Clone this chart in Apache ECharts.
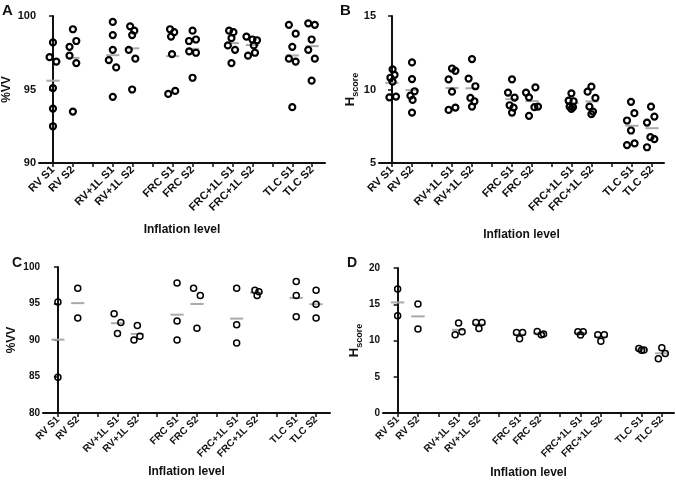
<!DOCTYPE html>
<html>
<head>
<meta charset="utf-8">
<script src="https://cdn.jsdelivr.net/npm/echarts@6/dist/echarts.min.js"></script>
<style>
  html, body { margin: 0; padding: 0; background: #fff; }
  #chart { width: 676px; height: 485px; }
</style>
</head>
<body>
<div id="chart"></div>
<script>
// categories on the x axis (pairs with a blank slot between them)
const categories = ['RV S1', 'RV S2', 'RV+1L S1', 'RV+1L S2', 'FRC S1', 'FRC S2', 'FRC+1L S1', 'FRC+1L S2', 'TLC S1', 'TLC S2']
const catPositions = [0, 1, 3, 4, 6, 7, 9, 10, 12, 13]
const tickPositions = [0, 1, 2, 3, 4, 5, 6, 7, 8, 9, 10, 11, 12, 13]

// panel A: %VV, six subjects
const vvA = [
  [98.2, 97.2, 96.9, 95.1, 93.7, 92.5],
  [99.1, 98.3, 97.9, 97.3, 96.8, 93.5],
  [99.6, 98.7, 97.7, 97.0, 96.5, 94.5],
  [99.3, 99.0, 98.7, 97.7, 97.1, 95.0],
  [99.1, 98.9, 98.6, 97.4, 94.9, 94.7],
  [99.0, 98.4, 98.3, 97.6, 97.5, 95.8],
  [99.0, 98.9, 98.5, 98.0, 97.7, 96.8],
  [98.6, 98.4, 98.35, 98.0, 97.5, 97.3],
  [99.4, 98.8, 97.9, 97.1, 96.9, 93.8],
  [99.5, 99.4, 98.4, 97.7, 97.1, 95.6]
]
const jitterA = [
  [0, -0.17, 0.17, 0, 0, 0],
  [0, 0.17, -0.17, -0.17, 0.17, 0],
  [0, 0, 0, -0.2, 0.17, 0],
  [-0.13, 0.08, -0.03, -0.2, 0.13, -0.03],
  [-0.13, 0.08, -0.08, -0.03, 0.13, -0.22],
  [0, 0.17, -0.18, -0.17, 0.17, 0],
  [-0.17, 0.05, -0.05, -0.23, 0.13, -0.05],
  [-0.3, 0, 0.23, 0.07, 0.13, -0.22],
  [-0.17, 0.17, 0, -0.17, 0.17, 0],
  [-0.2, 0.13, -0.03, -0.2, 0.13, -0.03]
]

// panel B: Hscore, six subjects
const hsB = [
  [11.37, 11.0, 10.8, 10.53, 9.47, 9.52],
  [11.84, 10.71, 9.88, 9.58, 9.29, 8.43],
  [11.43, 11.27, 10.69, 9.85, 8.61, 8.77],
  [12.07, 10.74, 10.22, 9.43, 9.2, 8.84],
  [10.69, 9.79, 9.45, 8.93, 8.77, 8.43],
  [9.79, 9.47, 10.15, 8.21, 8.8, 8.84],
  [9.74, 9.25, 9.2, 8.84, 8.8, 8.68],
  [10.19, 9.85, 9.43, 8.84, 8.5, 8.32],
  [9.16, 8.39, 7.89, 7.21, 6.22, 6.33],
  [8.84, 8.16, 7.75, 6.76, 6.63, 6.07]
]
const jitterB = [
  [0.03, 0.13, -0.08, 0.03, -0.13, 0.2],
  [0, 0, 0.13, -0.08, 0.03, 0],
  [0, 0.17, -0.17, 0, -0.17, 0.17],
  [0, -0.17, 0.17, -0.08, 0.12, 0],
  [0, -0.2, 0.13, -0.12, 0.08, 0],
  [-0.3, -0.15, 0.17, -0.15, 0.12, 0.3],
  [-0.03, -0.17, 0.08, -0.12, 0.05, -0.03],
  [-0.03, -0.22, 0.17, -0.13, 0.05, -0.03],
  [-0.05, 0.12, -0.25, -0.05, -0.25, 0.13],
  [-0.05, 0.12, -0.25, -0.08, 0.12, -0.25]
]

// panel C: %VV, small group
const vvC = [
  [95.2, 84.9],
  [97.1, 93.0],
  [93.6, 92.4, 90.9],
  [92.0, 90.0, 90.5],
  [97.8, 92.6, 90.0],
  [97.1, 96.1, 91.6],
  [97.1, 92.1, 89.6],
  [96.8, 96.6, 96.1],
  [98.0, 96.1, 93.2],
  [96.8, 94.9, 93.0]
]
const jitterC = [
  [0, 0], [0, 0], [-0.17, 0.17, 0], [0, -0.17, 0.13], [0, 0, 0],
  [-0.17, 0.17, 0], [0, 0, 0], [-0.08, 0.12, 0.03], [0, 0, 0], [0, 0, 0]
]

// panel D: Hscore, small group
const hsD = [
  [17.1, 13.4],
  [15.05, 11.6],
  [12.4, 10.8, 11.2],
  [12.5, 12.5, 11.65],
  [11.1, 11.1, 10.25],
  [11.25, 10.8, 10.9],
  [11.2, 11.2, 10.75],
  [10.8, 10.8, 9.9],
  [8.9, 8.65, 8.7],
  [9.0, 8.2, 7.5]
]
const jitterD = [
  [0, 0], [0, 0], [0, -0.17, 0.17], [-0.15, 0.15, 0], [-0.15, 0.15, 0],
  [-0.13, 0.07, 0.18], [-0.13, 0.13, 0], [-0.15, 0.17, 0], [-0.13, 0, 0.12], [0, 0.17, -0.17]
]

const FONT = "'Liberation Sans', Arial, sans-serif"
const INK = '#111'

function pointsOf(values, jitter) {
  const out = []
  values.forEach((vals, i) => {
    vals.forEach((v, j) => out.push([catPositions[i] + jitter[i][j], v]))
  })
  return out
}

function meansOf(values) {
  return values.map((vals, i) => [catPositions[i], vals.reduce((a, b) => a + b, 0) / vals.length])
}

function xAxisOf(idx, min, max, fontSize, gap) {
  return {
    type: 'value', gridIndex: idx, min: min, max: max,
    name: 'Inflation level', nameLocation: 'middle', nameGap: gap,
    nameTextStyle: { fontFamily: FONT, fontWeight: 'bold', fontSize: 12, color: INK },
    axisLine: { show: true, onZero: false, lineStyle: { color: INK, width: 2 } },
    axisTick: { show: true, length: 4, customValues: tickPositions, lineStyle: { color: INK, width: 1.5 } },
    axisLabel: {
      customValues: catPositions, rotate: 45, margin: 5,
      fontFamily: FONT, fontWeight: 'bold', fontSize: fontSize, color: INK,
      formatter: v => categories[catPositions.indexOf(Math.round(v))] || ''
    },
    splitLine: { show: false }
  }
}

function yAxisOf(idx, min, max, name, gap, fontSize) {
  return {
    type: 'value', gridIndex: idx, min: min, max: max, interval: 5,
    name: name, nameLocation: 'middle', nameGap: gap,
    nameTextStyle: {
      fontFamily: FONT, fontWeight: 'bold', fontSize: 12, color: INK,
      rich: {
        h: { fontFamily: FONT, fontWeight: 'bold', fontSize: 13, color: INK, verticalAlign: 'bottom', padding: [0, 0, 3, 0] },
        s: { fontFamily: FONT, fontWeight: 'bold', fontSize: 9, color: INK, verticalAlign: 'bottom' }
      }
    },
    axisLine: { show: true, lineStyle: { color: INK, width: 2 } },
    axisTick: { show: true, length: 4, lineStyle: { color: INK, width: 1.5 } },
    axisLabel: { margin: 3, fontFamily: FONT, fontWeight: 'bold', fontSize: fontSize, color: INK },
    splitLine: { show: false }
  }
}

function scatterOf(idx, values, jitter, border) {
  return {
    type: 'scatter', xAxisIndex: idx, yAxisIndex: idx, z: 3,
    symbol: 'circle', symbolSize: 6,
    itemStyle: { color: 'rgba(255,255,255,0)', borderColor: '#000', borderWidth: border, opacity: 1 },
    data: pointsOf(values, jitter)
  }
}

function meanOf(idx, values) {
  return {
    type: 'custom', xAxisIndex: idx, yAxisIndex: idx, z: 2,
    data: meansOf(values),
    renderItem: (params, api) => {
      const a = api.coord([api.value(0) - 0.33, api.value(1)])
      const b = api.coord([api.value(0) + 0.33, api.value(1)])
      return {
        type: 'line',
        shape: { x1: a[0], y1: a[1], x2: b[0], y2: b[1] },
        style: { stroke: '#aaaaaa', lineWidth: 2 }
      }
    }
  }
}

const hName = '{h|H}{s|score}'

const option = {
  backgroundColor: '#fff',
  animation: false,
  grid: [
    { left: 39, top: 16, width: 286, height: 147 },
    { left: 379, top: 16, width: 285, height: 147 },
    { left: 43, top: 267, width: 287, height: 146 },
    { left: 383, top: 268, width: 291, height: 145 }
  ],
  xAxis: [
    xAxisOf(0, -0.7, 13.64, 11, 61),
    xAxisOf(1, -0.65, 13.6, 11, 66),
    xAxisOf(2, -0.75, 13.7, 10, 53),
    xAxisOf(3, -0.72, 13.6, 10, 54)
  ],
  yAxis: [
    yAxisOf(0, 90, 100, '%VV', 26, 11),
    yAxisOf(1, 5, 15, hName, 18, 11),
    yAxisOf(2, 80, 100, '%VV', 25, 10),
    yAxisOf(3, 0, 20, hName, 19, 10)
  ],
  graphic: [
    { type: 'text', left: 2, top: 3, style: { text: 'A', font: 'bold 15px ' + FONT, fill: INK } },
    { type: 'text', left: 340, top: 3, style: { text: 'B', font: 'bold 15px ' + FONT, fill: INK } },
    { type: 'text', left: 12, top: 256, style: { text: 'C', font: 'bold 14px ' + FONT, fill: INK } },
    { type: 'text', left: 347, top: 256, style: { text: 'D', font: 'bold 14px ' + FONT, fill: INK } }
  ],
  series: [
    meanOf(0, vvA), scatterOf(0, vvA, jitterA, 2.2),
    meanOf(1, hsB), scatterOf(1, hsB, jitterB, 2.2),
    meanOf(2, vvC), scatterOf(2, vvC, jitterC, 1.5),
    meanOf(3, hsD), scatterOf(3, hsD, jitterD, 1.5)
  ]
}

const chart = echarts.init(document.getElementById('chart'))
chart.setOption(option)
window.addEventListener('resize', () => chart.resize())
</script>
</body>
</html>
